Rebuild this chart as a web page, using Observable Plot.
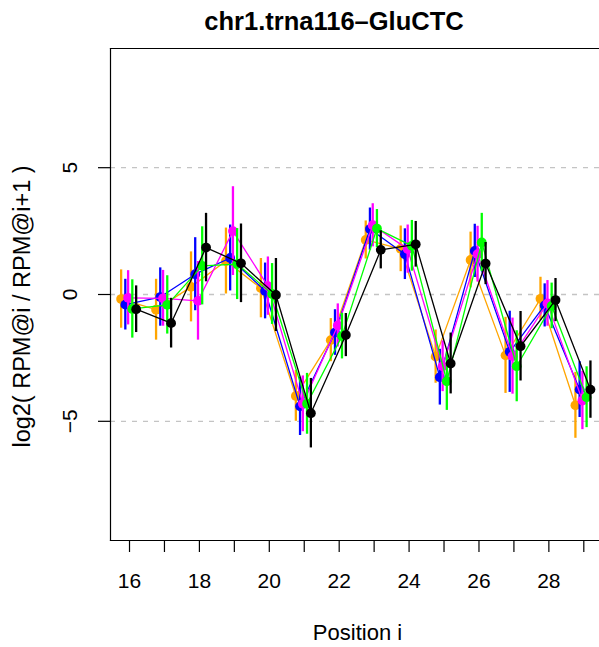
<!DOCTYPE html>
<html>
<head>
<meta charset="utf-8">
<script src="https://cdn.jsdelivr.net/npm/d3@7"></script>
<script src="https://cdn.jsdelivr.net/npm/@observablehq/plot@0.6"></script>
<style>
  html, body { margin: 0; padding: 0; background: #fff; overflow: hidden; }
  #chart { width: 599px; height: 647px; }
</style>
</head>
<body>
<div id="chart"></div>
<script>
const title = "chr1.trna116\u2013GluCTC";
const xLabel = "Position i";
const yLabel = "log2( RPM@i / RPM@i+1 )";

const positions = [16, 17, 18, 19, 20, 21, 22, 23, 24, 25, 26, 27, 28, 29];
const xTickLabels = [16, 18, 20, 22, 24, 26, 28];
const yTicks = [-5, 0, 5];

const seriesNames = ["orange", "blue", "magenta", "green", "black"];
const seriesColors = ["#FFA500", "#0000FF", "#FF00FF", "#00FF00", "#000000"];
const seriesOffsets = [-0.24, -0.12, -0.04, 0.08, 0.19];

const orangeMean  = [-0.18, -0.60, 0.30, 1.32, 0.25, -4.00, -1.80, 2.15, 1.80, -2.45, 1.36, -2.40, -0.17, -4.37];
const orangeErr   = [ 1.15,  1.20, 1.38, 1.30, 1.17,  1.00,  0.85, 0.75, 0.90,  1.05, 1.10,  1.50,  0.85,  1.30];
const blueMean    = [-0.40, -0.10, 0.80, 1.44, 0.14, -4.41, -1.50, 2.58, 1.59, -3.26, 1.72, -2.26, -0.43, -3.75];
const blueErr     = [ 1.00,  1.15, 1.44, 1.30, 1.10,  1.15,  0.90, 0.83, 1.00,  1.10, 1.05,  1.60,  0.85,  1.10];
const magentaMean = [-0.13, -0.15, -0.25, 2.50, 0.33, -4.31, -1.22, 2.73, 1.79, -2.83, 1.59, -2.43, -0.35, -4.18];
const magentaErr  = [ 1.07,  1.10, 1.55, 1.75, 1.15,  1.10,  0.85, 0.85, 0.95,  1.00, 1.10,  1.50,  0.90,  1.15];
const greenMean   = [-0.57, -0.41, 1.13, 1.20, 0.02, -4.31, -1.64, 2.60, 1.92, -3.42, 2.05, -2.83, -0.45, -4.05];
const greenErr    = [ 1.15,  1.15, 1.54, 1.40, 1.20,  1.20,  0.90, 0.75, 1.00,  1.15, 1.15,  1.40,  0.90,  1.20];
const blackMean   = [-0.58, -1.13, 1.85, 1.23, -0.02, -4.68, -1.60, 1.76, 1.98, -2.72, 1.22, -2.04, -0.22, -3.75];
const blackErr    = [ 0.92,  0.98, 1.35, 1.55, 1.44,  1.37,  0.85, 0.75, 0.90,  1.20, 0.83,  1.37,  0.85,  1.13];

const means = [orangeMean, blueMean, magentaMean, greenMean, blackMean];
const errs = [orangeErr, blueErr, magentaErr, greenErr, blackErr];

const seriesRows = seriesNames.map((name, s) =>
  positions.map((p, i) => ({
    series: name,
    x: p + seriesOffsets[s],
    y: means[s][i],
    lo: means[s][i] - errs[s][i],
    hi: means[s][i] + errs[s][i]
  }))
);

const fontSize = 21;
const marks = [
  Plot.ruleY(yTicks, {y: d => d, stroke: "#c4c4c4", strokeWidth: 1.3, strokeDasharray: "5,6"})
];
seriesRows.forEach((rows, s) => {
  const c = seriesColors[s];
  marks.push(Plot.line(rows, {x: "x", y: "y", stroke: c, strokeWidth: 1.3}));
  marks.push(Plot.ruleX(rows, {x: "x", y1: "lo", y2: "hi", stroke: c, strokeWidth: 2.3}));
  marks.push(Plot.dot(rows, {x: "x", y: "y", r: 4.9, fill: c, stroke: "none"}));
});
marks.push(
  Plot.frame({anchor: "left", stroke: "#000", strokeWidth: 1.2}),
  Plot.frame({anchor: "top", stroke: "#000", strokeWidth: 1.2}),
  Plot.frame({anchor: "bottom", stroke: "#000", strokeWidth: 1.2}),
  Plot.axisX({ticks: positions, tickSize: 12, tickFormat: () => "", label: null, stroke: "#000", strokeWidth: 1.2}),
  Plot.axisY({ticks: yTicks, tickSize: 12, tickFormat: () => "", label: null, stroke: "#000", strokeWidth: 1.2}),
  Plot.text(xTickLabels, {x: d => d, frameAnchor: "bottom", dy: 40.5, lineAnchor: "middle", text: d => String(d), fontSize, fill: "#000"}),
  Plot.text(yTicks, {y: d => d, frameAnchor: "left", dx: -40, rotate: -90, lineAnchor: "middle", textAnchor: "middle", text: d => (d < 0 ? "\u2212" + Math.abs(d) : String(d)), fontSize, fill: "#000"}),
  Plot.text([yLabel], {frameAnchor: "left", dx: -88, dy: 12, rotate: -90, lineAnchor: "middle", textAnchor: "middle", text: d => d, fontSize: 23.5, fill: "#000"}),
  Plot.text([xLabel], {frameAnchor: "bottom", dx: 2.5, dy: 92.5, lineAnchor: "middle", text: d => d, fontSize: 22, fill: "#000"}),
  Plot.text([title], {frameAnchor: "top", dx: -21, dy: -26.5, lineAnchor: "middle", text: d => d, fontSize: 25.5, fontWeight: "bold", fill: "#000"})
);

const chart = Plot.plot({
  width: 599,
  height: 647,
  marginTop: 48,
  marginRight: 0,
  marginBottom: 107,
  marginLeft: 110,
  x: {domain: [15.456, 29.449], axis: null},
  y: {domain: [-9.7, 9.7], axis: null},
  style: {fontFamily: "'Liberation Sans', Arial, Helvetica, sans-serif", background: "#fff", overflow: "visible"},
  marks
});
document.getElementById("chart").appendChild(chart);
</script>
</body>
</html>
